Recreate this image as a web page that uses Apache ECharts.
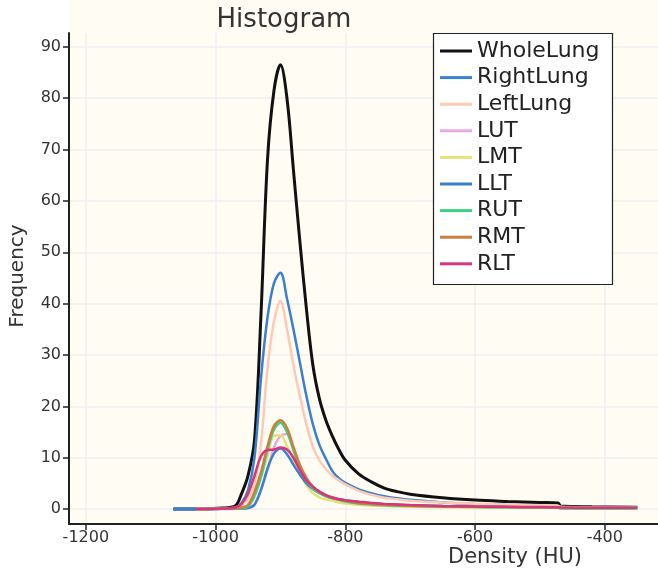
<!DOCTYPE html>
<html><head><meta charset="utf-8">
<script src="https://cdn.jsdelivr.net/npm/echarts@6/dist/echarts.min.js"></script>
<style>html,body{margin:0;padding:0;background:#fff}#c{width:658px;height:581px}</style>
</head><body><div id="c"></div>
<script>
// Density (HU) sample positions
const densities = [-1065, -1030, -990, -970, -960, -950, -940, -930, -920, -910, -900, -890, -880, -870, -860, -850, -840, -830, -820, -810, -800, -780, -760, -740, -720, -700, -650, -600, -550, -500, -472, -468, -420, -350];

const wholeLung = [0, 0, 0.2, 0.6, 3, 6.5, 13.5, 38, 68, 81.5, 86.5, 80, 66, 52, 39, 28, 21.5, 17.3, 14.2, 11.6, 9.5, 6.9, 5.3, 4.1, 3.4, 2.9, 2.2, 1.75, 1.5, 1.3, 1.2, 0.6, 0.45, 0.35];
const rightLung = [0, 0, 0.1, 0.3, 1.2, 3.7, 10.1, 25.5, 37.3, 44, 46, 41, 35, 28.5, 22, 16.5, 12.5, 9.8, 7.4, 6.0, 5.1, 3.9, 3.1, 2.5, 2.1, 1.8, 1.3, 1.0, 0.8, 0.6, 0.55, 0.35, 0.3, 0.25];
const leftLung = [null, 0, 0.1, 0.2, 0.7, 2, 5, 12.8, 27.5, 36.5, 40.5, 35, 28, 22, 16.5, 12.1, 9.5, 7.8, 6.5, 5.6, 4.8, 3.6, 2.8, 2.2, 1.9, 1.65, 1.3, 1.05, 0.85, 0.7, 0.65, 0.45, 0.35, 0.3];
const lut = [null, 0, 0, 0.05, 0.1, 0.2, 0.8, 3.7, 7.6, 12, 14.2, 14.6, 11.6, 8.5, 6.0, 4.4, 3.3, 2.6, 2.1, 1.8, 1.5, 1.15, 0.95, 0.8, 0.7, 0.6, 0.5, 0.4, 0.35, 0.3, 0.3, 0.25, 0.2, 0.2];
const lmt = [null, 0, 0.05, 0.1, 0.2, 0.6, 2.4, 6.3, 10.3, 14.3, 14.4, 12.2, 9.5, 6.9, 4.7, 3.1, 2.3, 1.9, 1.6, 1.3, 1.1, 0.85, 0.7, 0.6, 0.5, 0.45, 0.35, 0.3, 0.3, 0.25, 0.25, 0.2, 0.2, 0.15];
const llt = [0, 0, 0.05, 0.1, 0.1, 0.2, 0.9, 3.8, 7.9, 10.8, 11.8, 10.7, 8.6, 6.7, 5.0, 3.9, 3.15, 2.6, 2.2, 1.95, 1.75, 1.4, 1.15, 0.95, 0.85, 0.75, 0.6, 0.5, 0.4, 0.35, 0.3, 0.25, 0.2, 0.2];
const rut = [null, 0, 0.05, 0.1, 0.2, 0.5, 2.6, 6.3, 11.5, 15.5, 16.8, 15, 11.5, 8.0, 5.6, 4.0, 3.1, 2.5, 2.1, 1.8, 1.5, 1.1, 0.9, 0.75, 0.65, 0.6, 0.5, 0.4, 0.35, 0.3, 0.3, 0.1, 0.1, 0.1];
const rmt = [null, 0, 0.05, 0.1, 0.3, 0.8, 3.4, 7.2, 12.2, 16.2, 17.3, 15.8, 12.1, 8.6, 6.1, 4.35, 3.4, 2.7, 2.3, 1.9, 1.6, 1.2, 1.0, 0.85, 0.75, 0.65, 0.5, 0.45, 0.4, 0.35, 0.3, 0.25, 0.22, 0.2];
const rlt = [null, 0, 0.1, 0.3, 1.0, 3.0, 6.5, 10.3, 11.5, 11.6, 12.0, 11.6, 10.0, 7.6, 5.6, 4.35, 3.4, 2.7, 2.2, 1.9, 1.7, 1.45, 1.2, 1.0, 0.9, 0.8, 0.6, 0.5, 0.45, 0.4, 0.35, 0.3, 0.25, 0.25];

const seriesNames = ['WholeLung', 'RightLung', 'LeftLung', 'LUT', 'LMT', 'LLT', 'RUT', 'RMT', 'RLT'];
const seriesValues = [wholeLung, rightLung, leftLung, lut, lmt, llt, rut, rmt, rlt];
const seriesColors = ['#111111', '#3a80d2', '#ffc9b3', '#e8a9e6', '#e6e07a', '#3a80d2', '#3ecf86', '#cc7f3a', '#d6367a'];

const xTicks = [-1200, -1000, -800, -600, -400];
const yTicks = [0, 10, 20, 30, 40, 50, 60, 70, 80, 90];

const FONT = 'DejaVu Sans';
const chart = echarts.init(document.getElementById('c'), null, {renderer: 'canvas'});

const series = seriesNames.map((name, i) => ({
  name: name,
  type: 'line',
  data: densities.map((x, j) => [x, seriesValues[i][j]]).filter(d => d[1] !== null),
  symbol: 'none',
  showSymbol: false,
  smooth: 0.35,
  lineStyle: {width: i === 0 ? 3 : 2.5, color: seriesColors[i]},
  itemStyle: {color: seriesColors[i]},
  z: 2
}));

const axisCommon = {
  type: 'value',
  axisLine: {show: true, onZero: false, lineStyle: {color: '#222', width: 2}},
  splitLine: {show: true, lineStyle: {color: '#eeeff3', width: 1.5}},
};

chart.setOption({
  animation: false,
  backgroundColor: '#ffffff',
  grid: {left: 69, right: 0, top: 33, bottom: 57, containLabel: false, outerBoundsMode: 'none'},
  xAxis: Object.assign({}, axisCommon, {
    min: -1226, max: -318,
    axisTick: {show: true, length: 6, customValues: xTicks, lineStyle: {color: '#222', width: 1.5}},
    axisLabel: {customValues: xTicks, margin: 6, fontFamily: FONT, fontSize: 16, color: '#333', formatter: v => String(v)}
  }),
  yAxis: Object.assign({}, axisCommon, {
    min: -2.9, max: 92.7,
    axisTick: {show: true, length: 6, customValues: yTicks, lineStyle: {color: '#222', width: 1.5}},
    axisLabel: {customValues: yTicks, margin: 8, fontFamily: FONT, fontSize: 16, color: '#333', formatter: v => String(v)}
  }),
  legend: {
    data: seriesNames,
    orient: 'vertical',
    left: 440, top: 40,
    padding: 0,
    icon: 'rect',
    itemWidth: 32, itemHeight: 3, itemGap: 4.6,
    textStyle: {fontFamily: FONT, fontSize: 22, color: '#222'},
    z: 10
  },
  graphic: [
    {type: 'rect', z: -100, silent: true, shape: {x: 69, y: 0, width: 589, height: 524}, style: {fill: '#fffcf3'}},
    {type: 'rect', z: 5, silent: true, shape: {x: 433.5, y: 33.5, width: 179, height: 251}, style: {fill: '#ffffff', stroke: '#222', lineWidth: 1.2}},
    {type: 'text', z: 6, x: 284, y: 20, style: {text: 'Histogram', font: '26px "DejaVu Sans"', fill: '#333', textAlign: 'center', textVerticalAlign: 'middle'}},
    {type: 'text', z: 6, x: 515, y: 558, style: {text: 'Density (HU)', font: '21px "DejaVu Sans"', fill: '#333', textAlign: 'center', textVerticalAlign: 'middle'}},
    {type: 'text', z: 6, x: 18, y: 276, rotation: Math.PI / 2, style: {text: 'Frequency', font: '20px "DejaVu Sans"', fill: '#333', textAlign: 'center', textVerticalAlign: 'middle'}}
  ],
  series: series
});
</script>
</body></html>
